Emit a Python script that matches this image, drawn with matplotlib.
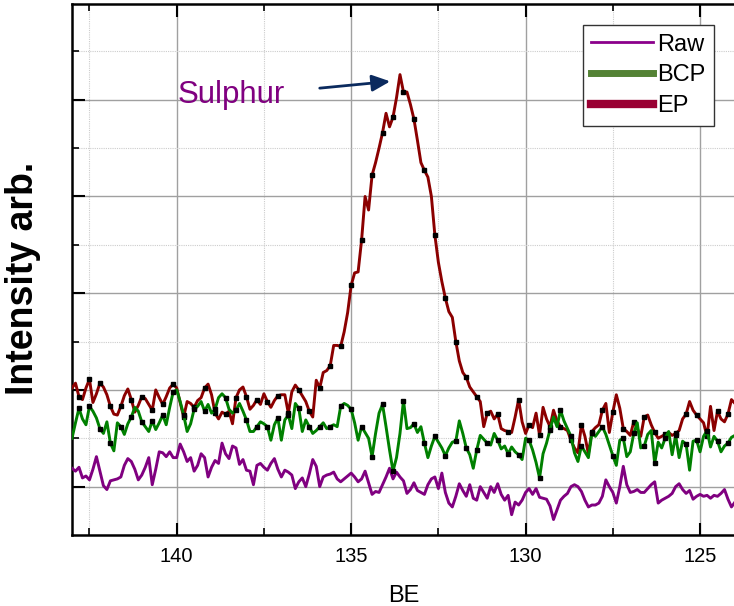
import numpy as np
import matplotlib
matplotlib.use("Agg")
import matplotlib.pyplot as plt
from matplotlib.lines import Line2D

plt.rcParams["font.family"] = ["Liberation Sans", "DejaVu Sans"]

# binding energy grid (eV), 0.1 eV steps from 143 down to 124
be = np.round(np.arange(143.0, 123.95, -0.1), 1)

# EP sample (arb. units)
ep = [1.52, 1.57, 1.43, 1.40, 1.52, 1.61, 1.37, 1.46, 1.57, 1.53,
      1.45, 1.33, 1.25, 1.24, 1.33, 1.44, 1.51, 1.40, 1.27, 1.34,
      1.43, 1.41, 1.35, 1.29, 1.50, 1.42, 1.35, 1.43, 1.52, 1.56,
      1.52, 1.37, 1.22, 1.38, 1.36, 1.32, 1.39, 1.42, 1.52, 1.56,
      1.45, 1.26, 1.20, 1.27, 1.25, 1.28, 1.15, 1.42, 1.50, 1.53,
      1.43, 1.30, 1.34, 1.40, 1.35, 1.46, 1.38, 1.32, 1.39, 1.44,
      1.45, 1.45, 1.26, 1.48, 1.55, 1.50, 1.44, 1.38, 1.28, 1.22,
      1.60, 1.52, 1.68, 1.70, 1.75, 1.96, 1.96, 1.95, 2.10, 2.30,
      2.58, 2.71, 2.72, 3.05, 3.50, 3.36, 3.72, 3.85, 4.00, 4.16,
      4.36, 4.22, 4.32, 4.52, 4.76, 4.58, 4.58, 4.45, 4.30, 4.08,
      3.85, 3.77, 3.70, 3.50, 3.10, 2.82, 2.62, 2.45, 2.31, 2.25,
      2.00, 1.80, 1.68, 1.63, 1.53, 1.48, 1.43, 1.38, 1.12, 1.26,
      1.28, 1.20, 1.25, 1.10, 1.08, 1.07, 1.06, 1.22, 1.40, 1.17,
      1.05, 1.14, 1.11, 1.26, 1.03, 1.32, 1.20, 1.12, 1.29, 1.18,
      1.12, 1.10, 1.08, 0.98, 0.90, 0.85, 1.14, 1.02, 0.84, 1.07,
      1.11, 1.14, 1.29, 1.36, 1.06, 1.27, 1.45, 1.31, 1.10, 1.07,
      1.03, 1.17, 1.10, 1.02, 1.22, 1.24, 1.14, 1.06, 1.00, 1.02,
      1.04, 1.06, 1.03, 1.05, 1.08, 1.20, 1.25, 1.38, 1.29, 1.24,
      1.20, 1.16, 1.02, 1.33, 1.08, 1.28, 1.20, 1.17, 1.25, 1.40, 1.36]

# BCP sample
bcp = [1.00, 1.16, 1.31, 1.20, 1.14, 1.33, 1.28, 1.21, 1.10, 1.05,
       1.17, 0.95, 0.87, 1.16, 1.12, 1.04, 1.15, 1.22, 1.32, 1.28,
       1.17, 1.12, 1.07, 1.18, 1.09, 1.16, 1.24, 1.14, 1.32, 1.48,
       1.50, 1.38, 1.24, 1.07, 1.15, 1.30, 1.33, 1.38, 1.28, 1.35,
       1.26, 1.30, 1.42, 1.46, 1.42, 1.30, 1.26, 1.29, 1.36, 1.28,
       1.19, 1.07, 1.07, 1.12, 1.17, 1.15, 1.12, 0.98, 1.14, 1.21,
       0.98, 1.19, 1.24, 1.10, 1.36, 1.31, 1.07, 1.19, 1.12, 1.05,
       1.08, 1.12, 1.16, 1.10, 1.12, 1.14, 1.12, 1.33, 1.36, 1.34,
       1.30, 1.16, 0.98, 1.12, 1.06, 1.00, 0.81, 1.05, 1.26, 1.35,
       1.12, 0.88, 0.66, 0.80, 1.05, 1.39, 1.10, 1.11, 1.15, 1.06,
       1.12, 0.95, 0.80, 0.92, 1.02, 0.96, 0.90, 0.82, 0.90, 0.96,
       0.97, 1.18, 1.05, 0.90, 0.83, 0.69, 0.88, 1.03, 0.99, 0.95,
       0.93, 1.05, 0.98, 0.89, 0.92, 0.84, 0.91, 0.86, 0.83, 0.78,
       1.00, 0.98, 0.88, 0.75, 0.59, 0.84, 0.95, 1.09, 1.22, 1.12,
       1.29, 1.18, 1.10, 1.02, 0.85, 0.76, 0.92, 0.86, 0.80, 1.05,
       1.02, 1.07, 1.12, 1.04, 0.93, 0.82, 0.72, 0.98, 1.00, 0.81,
       0.86, 1.05, 1.16, 0.90, 0.92, 1.04, 1.08, 0.74, 0.96, 0.90,
       1.00, 1.07, 0.83, 1.03, 0.80, 0.97, 0.94, 0.67, 0.97, 0.98,
       0.86, 1.02, 1.08, 0.91, 1.02, 0.97, 0.86, 0.92, 0.95, 1.01, 1.03]

# untreated sample
raw = [0.69, 0.66, 0.70, 0.59, 0.61, 0.57, 0.68, 0.81, 0.66, 0.51,
       0.47, 0.56, 0.57, 0.58, 0.60, 0.72, 0.79, 0.76, 0.68, 0.57,
       0.62, 0.70, 0.80, 0.52, 0.68, 0.86, 0.85, 0.81, 0.86, 0.80,
       0.80, 0.94, 0.86, 0.76, 0.80, 0.66, 0.72, 0.84, 0.80, 0.60,
       0.70, 0.77, 0.74, 0.95, 0.84, 0.79, 0.92, 0.90, 0.73, 0.78,
       0.67, 0.66, 0.52, 0.72, 0.74, 0.70, 0.67, 0.74, 0.79, 0.68,
       0.60, 0.67, 0.65, 0.62, 0.48, 0.55, 0.59, 0.50, 0.63, 0.78,
       0.71, 0.50, 0.60, 0.62, 0.63, 0.65, 0.58, 0.55, 0.58, 0.61,
       0.64, 0.60, 0.55, 0.58, 0.66, 0.54, 0.42, 0.45, 0.44, 0.52,
       0.60, 0.69, 0.58, 0.65, 0.60, 0.56, 0.43, 0.47, 0.54, 0.46,
       0.44, 0.42, 0.52, 0.58, 0.60, 0.48, 0.64, 0.44, 0.33, 0.29,
       0.40, 0.53, 0.46, 0.40, 0.52, 0.38, 0.36, 0.50, 0.44, 0.38,
       0.50, 0.44, 0.53, 0.42, 0.36, 0.41, 0.21, 0.34, 0.31, 0.36,
       0.44, 0.48, 0.42, 0.48, 0.39, 0.38, 0.37, 0.30, 0.16, 0.26,
       0.36, 0.40, 0.43, 0.50, 0.52, 0.50, 0.45, 0.36, 0.29, 0.31,
       0.31, 0.33, 0.40, 0.57, 0.50, 0.44, 0.33, 0.50, 0.71, 0.52,
       0.44, 0.45, 0.47, 0.44, 0.44, 0.48, 0.52, 0.55, 0.33, 0.36,
       0.38, 0.40, 0.43, 0.50, 0.53, 0.47, 0.43, 0.46, 0.37, 0.40,
       0.42, 0.40, 0.41, 0.38, 0.41, 0.40, 0.43, 0.47, 0.37, 0.29, 0.34]

labels = ["Raw", "BCP", "EP"]
line_colors = {"Raw": "#800080", "BCP": "#008000", "EP": "#8b0000"}
legend_colors = {"Raw": "#8b008b", "BCP": "#548235", "EP": "#990033"}

fig = plt.figure(figsize=(7.34, 6.06), dpi=100)
ax = fig.add_axes([72 / 734, 71 / 606, 664 / 734, 531 / 606])

ax.plot(be, raw, color=line_colors["Raw"], lw=2.1, zorder=3)
ax.plot(be, ep, color=line_colors["EP"], lw=2.1, marker="s", ms=3.2,
        mfc="black", mec="black", markevery=(2, 3), zorder=4)
ax.plot(be, bcp, color=line_colors["BCP"], lw=2.1, marker="s", ms=3.2,
        mfc="black", mec="black", markevery=(2, 3), zorder=5)

ax.set_xlim(143.0, 123.97)
ax.set_ylim(0, 5.49)
ax.set_xticks([140, 135, 130, 125])
ax.set_xticks([142.5, 137.5, 132.5, 127.5], minor=True)
ax.set_yticks(np.arange(0.5, 5.0, 1.0))
ax.set_yticks(np.arange(1.0, 5.5, 1.0), minor=True)
ax.set_yticklabels([])

ax.tick_params(which="major", direction="in", length=9, width=1.5,
               top=True, right=False, labelsize=14.5, pad=9)
ax.tick_params(which="minor", direction="in", length=5, width=1.2,
               top=True, right=False)
for side in ["left", "bottom", "top"]:
    ax.spines[side].set_linewidth(1.8)
ax.spines["right"].set_visible(False)

ax.set_axisbelow(True)
ax.grid(which="major", color="#a0a0a0", lw=1.0, ls="-")
ax.grid(which="minor", color="#cccccc", lw=0.8, ls=(0, (1, 1)))

ax.set_xlabel("BE", fontsize=17, labelpad=13)
ax.set_ylabel("Intensity arb.", fontsize=27, fontweight="bold")
ax.yaxis.set_label_coords(-0.047, 0.484)

# peak label
ip = int(np.argmax(ep))
ax.text(139.97, 4.47, "Sulphur", color="#800080", fontsize=22.5,
        ha="left", va="baseline")
ax.annotate("", xy=(be[ip] + 0.28, ep[ip] - 0.07), xytext=(135.9, 4.62),
            arrowprops=dict(arrowstyle="-|>,head_length=1.1,head_width=0.5",
                            color="#0b2a5e", lw=2, shrinkA=0, shrinkB=0))

handles = [Line2D([], [], color=legend_colors["Raw"], lw=2),
           Line2D([], [], color=legend_colors["BCP"], lw=5),
           Line2D([], [], color=legend_colors["EP"], lw=6)]
leg = ax.legend(handles, labels, loc="upper right", bbox_to_anchor=(0.967, 0.960),
                fontsize=17, fancybox=False, framealpha=1, edgecolor="#333333",
                handlelength=2.6, handletextpad=0.2, borderpad=0.35,
                labelspacing=0.38, borderaxespad=0)
leg.get_frame().set_linewidth(1.0)

fig.savefig("out.png", dpi=100)
